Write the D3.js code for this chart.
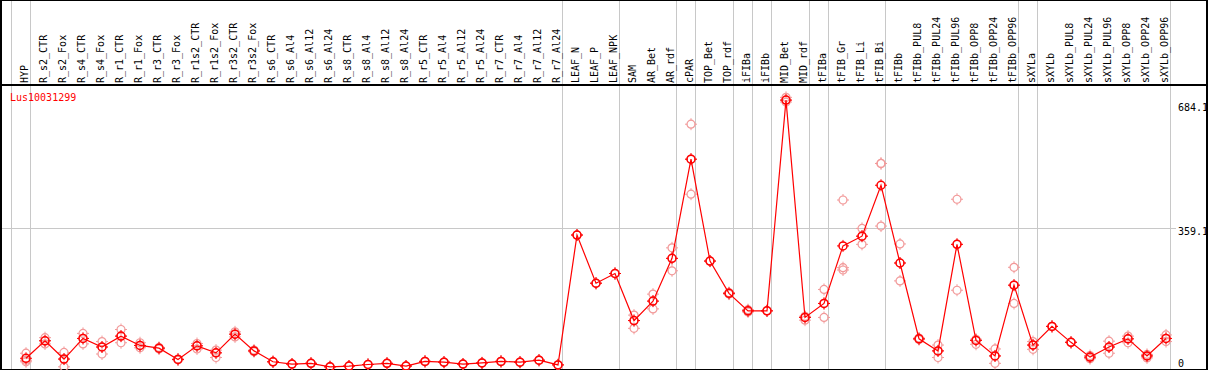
<!DOCTYPE html>
<meta charset="utf-8">
<head>
<style>
  body { margin: 0; background: #fff; }
  .col-label, .tick-label, .gene-label {
    font-family: 'DejaVu Sans Mono', monospace;
    font-size: 10px;
  }
  .grid { stroke: #c8c8c8; stroke-width: 1; shape-rendering: crispEdges; }
  .frame { stroke: #000; stroke-width: 1.5; shape-rendering: crispEdges; }
</style>
</head>
<script src="https://d3js.org/d3.v7.min.js"></script>
<div id="chart"></div>
<script>
// sample names, one column each
const samples = ["HYP", "R_s2_CTR", "R_s2_Fox", "R_s4_CTR", "R_s4_Fox", "R_r1_CTR", "R_r1_Fox",
  "R_r3_CTR", "R_r3_Fox", "R_r1s2_CTR", "R_r1s2_Fox", "R_r3s2_CTR", "R_r3s2_Fox", "R_s6_CTR",
  "R_s6_Al4", "R_s6_Al12", "R_s6_Al24", "R_s8_CTR", "R_s8_Al4", "R_s8_Al12", "R_s8_Al24",
  "R_r5_CTR", "R_r5_Al4", "R_r5_Al12", "R_r5_Al24", "R_r7_CTR", "R_r7_Al4", "R_r7_Al12", "R_r7_Al24",
  "LEAF_N", "LEAF_P", "LEAF_NPK", "SAM", "AR_Bet", "AR_rdf", "cPAR", "TOP_Bet", "TOP_rdf",
  "iFIBa", "iFIBb", "MID_Bet", "MID_rdf", "tFIBa", "tFIB_Gr", "tFIB_Li", "tFIB_Bi", "tFIBb",
  "tFIBb_PUL8", "tFIBb_PUL24", "tFIBb_PUL96", "tFIBb_OPP8", "tFIBb_OPP24", "tFIBb_OPP96",
  "sXYLa", "sXYLb", "sXYLb_PUL8", "sXYLb_PUL24", "sXYLb_PUL96", "sXYLb_OPP8", "sXYLb_OPP24", "sXYLb_OPP96"];

// number of columns in each tissue group (grey separators)
const groupSizes = [1, 28, 3, 3, 1, 2, 1, 1, 2, 1, 3, 7, 1, 7];

// mean expression
const means = [25, 70, 23, 76, 54, 82, 58, 51, 22, 57, 39, 87, 44, 16,
  10, 12, 3, 5, 9, 12, 5, 17, 15, 10, 13, 17, 15, 20, 8,
  342, 218, 243, 122, 172, 282, 537, 275, 192,
  147, 147, 689, 130, 166, 314, 339, 470, 270,
  75, 44, 318, 71, 31, 213,
  59, 107, 66, 28, 54, 75, 31, 76];

// replicates
const rep1 = [38, 78, 40, 89, 68, 99, 65, 53, 23, 63, 46, 93, 46, 16,
  10, 12, 3, 5, 9, 12, 5, 17, 15, 10, 13, 17, 15, 20, 8,
  342, 218, 243, 136, 190, 309, 627, 275, 194,
  150, 147, 696, 133, 202, 432, 359, 526, 319,
  77, 59, 434, 74, 49, 259,
  68, 107, 66, 32, 69, 82, 35, 85];
const rep2 = [16, 62, 3, 62, 36, 65, 52, 49, 21, 49, 27, 80, 42, 16,
  10, 12, 3, 5, 9, 12, 5, 17, 15, 10, 13, 17, 15, 20, 8,
  342, 218, 243, 102, 152, 250, 447, 275, 190,
  144, 147, 684, 123, 130, 252, 318, 365, 224,
  73, 27, 200, 61, 12, 166,
  48, 107, 66, 24, 38, 65, 26, 68];
const rep3 = [20, 70, 23, 76, 54, 82, 58, 51, 22, 57, 39, 87, 44, 16,
  10, 12, 3, 5, 9, 12, 5, 17, 15, 10, 13, 17, 15, 20, 8,
  342, 218, 243, 122, 172, 282, 537, 275, 192,
  147, 147, 689, 130, 166, 258, 339, 526, 270,
  75, 44, 318, 71, 31, 213,
  59, 107, 66, 28, 54, 75, 31, 76];

const yTicks = [0, 359.1, 684.1];
const geneName = "Lus10031299";

const W = 1209, H = 370;
const headerH = 85, plotBottom = 369;

const svg = d3.select("#chart").append("svg")
  .attr("width", W).attr("height", H);

// x: one band per sample, marker in band centre
const x = d3.scaleBand()
  .domain(samples)
  .range([16.5, 16.5 + samples.length * 19])
  .padding(0);
const cx = d => x(d) + x.bandwidth() / 2;

const y = d3.scaleLinear()
  .domain([0, 684.1])
  .range([368, 102]);

// vertical group separators
let bounds = [cx(samples[0]) - 14.5];
let acc = 0;
groupSizes.forEach(n => { acc += n; bounds.push(cx(samples[acc - 1]) + 4.5); });
svg.selectAll(".vgrid").data(bounds).enter().append("line")
  .attr("class", "grid")
  .attr("x1", d => d).attr("x2", d => d)
  .attr("y1", 0).attr("y2", plotBottom);

// horizontal gridline at middle tick
svg.append("line").attr("class", "grid")
  .attr("x1", 1).attr("x2", 1176)
  .attr("y1", Math.round(y(359.1)) + 0.5).attr("y2", Math.round(y(359.1)) + 0.5);

// frame
svg.append("rect").attr("class", "frame")
  .attr("x", 1).attr("y", 0.5).attr("width", 1206).attr("height", plotBottom)
  .attr("fill", "none");
svg.append("line").attr("class", "frame")
  .attr("x1", 1).attr("x2", 1207).attr("y1", headerH).attr("y2", headerH);

// column labels
svg.selectAll(".col-label").data(samples).enter().append("text")
  .attr("class", "col-label")
  .attr("transform", d => "translate(" + (cx(d) + 2) + "," + (headerH - 2) + ") rotate(-90)")
  .text(d => d);

// y tick labels
const tickDy = { 0: -1.5, 359.1: 7, 684.1: 9 };
svg.selectAll(".tick-label").data(yTicks).enter().append("text")
  .attr("class", "tick-label")
  .attr("x", 1178)
  .attr("y", d => y(d) + tickDy[d])
  .text(d => d);

svg.append("text").attr("class", "gene-label")
  .attr("x", 10).attr("y", 101)
  .attr("fill", "#ff0000")
  .text(geneName);

// marker: circle with little crosshair notches
function marker(g, color, sw) {
  g.append("circle").attr("r", 4).attr("fill", "none")
    .attr("stroke", color).attr("stroke-width", sw);
  g.append("path")
    .attr("d", "M0,-6V-3.5M0,3.5V6M-6,0H-3.5M3.5,0H6")
    .attr("stroke", color).attr("stroke-width", 1);
}

// replicates
const reps = [];
[rep1, rep2, rep3].forEach(r => r.forEach((v, i) => reps.push({ s: samples[i], v: v })));
svg.selectAll(".rep").data(reps).enter().append("g")
  .attr("class", "rep")
  .attr("transform", d => "translate(" + cx(d.s) + "," + y(d.v) + ")")
  .each(function () { marker(d3.select(this), "#f29a9a", 1.2); });

// mean line
const meanData = samples.map((s, i) => ({ s: s, v: means[i] }));
svg.append("path")
  .datum(meanData)
  .attr("fill", "none")
  .attr("stroke", "#ff0000")
  .attr("stroke-width", 1.2)
  .attr("d", d3.line().x(d => cx(d.s)).y(d => y(d.v)));

svg.selectAll(".mean").data(meanData).enter().append("g")
  .attr("class", "mean")
  .attr("transform", d => "translate(" + cx(d.s) + "," + y(d.v) + ")")
  .each(function () { marker(d3.select(this), "#ff0000", 1.5); });
</script>
